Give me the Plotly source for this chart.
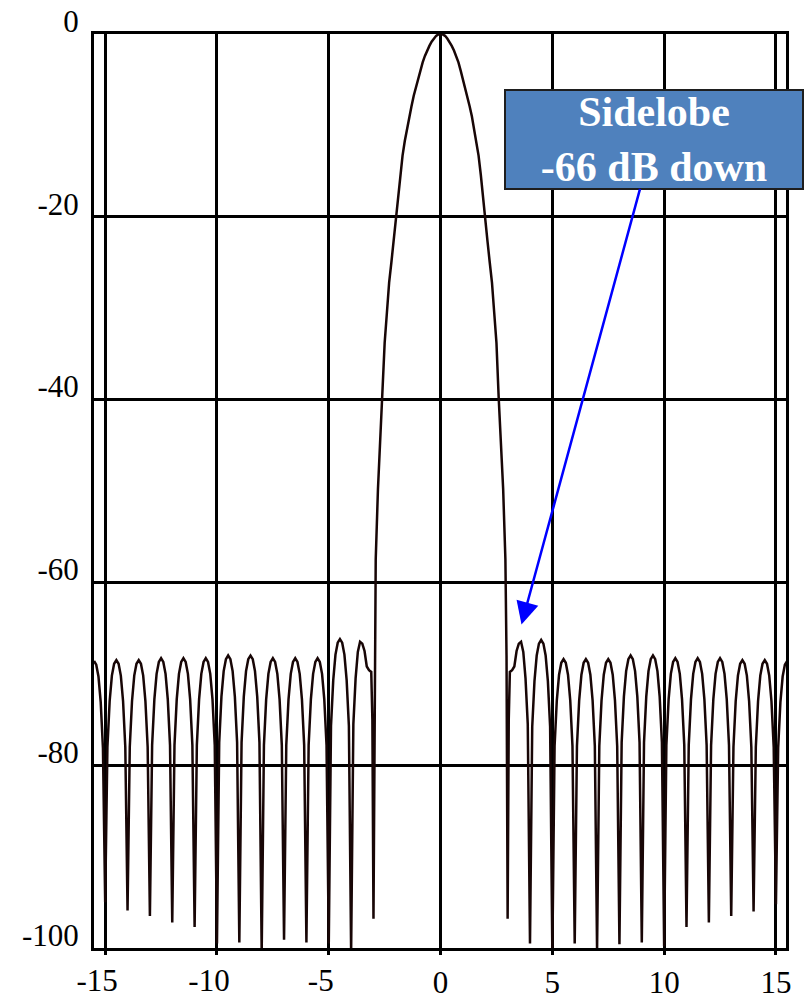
import plotly.graph_objects as go

# ---- data (angle vs. pattern level in dB) ----
x_left = [
    -15.5, -15.4, -15.3, -15.2, -15.1, -15.0,
    -14.9, -14.8, -14.7, -14.6, -14.5, -14.4, -14.3, -14.2, -14.1, -14.0,
    -13.9, -13.8, -13.7, -13.6, -13.5, -13.4, -13.3, -13.2, -13.1, -13.0,
    -12.9, -12.8, -12.7, -12.6, -12.5, -12.4, -12.3, -12.2, -12.1, -12.0,
    -11.9, -11.8, -11.7, -11.6, -11.5, -11.4, -11.3, -11.2, -11.1, -11.0,
    -10.9, -10.8, -10.7, -10.6, -10.5, -10.4, -10.3, -10.2, -10.1, -10.0,
    -9.9, -9.8, -9.7, -9.6, -9.5, -9.4, -9.3, -9.2, -9.1, -9.0,
    -8.9, -8.8, -8.7, -8.6, -8.5, -8.4, -8.3, -8.2, -8.1, -8.0,
    -7.9, -7.8, -7.7, -7.6, -7.5, -7.4, -7.3, -7.2, -7.1, -7.0,
    -6.9, -6.8, -6.7, -6.6, -6.5, -6.4, -6.3, -6.2, -6.1, -6.0,
    -5.9, -5.8, -5.7, -5.6, -5.5, -5.4, -5.3, -5.2, -5.1, -5.0,
    -4.9, -4.8, -4.7, -4.6, -4.5, -4.4, -4.3, -4.2, -4.1, -4.0,
    -3.9, -3.8, -3.7, -3.6, -3.5, -3.4, -3.3, -3.2, -3.1, -3.05, -3.0,
]
db_left = [
    -68.6, -69.0, -70.3, -73.1, -78.1, -95.0,
    -78.0, -73.0, -70.2, -68.9, -68.5, -68.9, -70.2, -73.0, -78.0, -95.9,
    -78.0, -73.0, -70.2, -68.9, -68.5, -68.9, -70.2, -73.0, -78.0, -96.5,
    -77.8, -72.8, -70.0, -68.7, -68.3, -68.7, -70.0, -72.8, -77.8, -97.2,
    -77.8, -72.8, -70.0, -68.7, -68.3, -68.7, -70.0, -72.8, -77.8, -97.7,
    -77.8, -72.8, -70.0, -68.7, -68.3, -68.7, -70.0, -72.8, -77.8, -99.5,
    -77.5, -72.5, -69.7, -68.4, -68.0, -68.4, -69.7, -72.5, -77.5, -99.4,
    -77.5, -72.5, -69.7, -68.4, -68.0, -68.4, -69.7, -72.5, -77.5, -100.5,
    -77.8, -72.8, -70.0, -68.7, -68.3, -68.7, -70.0, -72.8, -77.8, -99.1,
    -77.8, -72.8, -70.0, -68.7, -68.3, -68.7, -70.0, -72.8, -77.8, -99.4,
    -77.8, -72.8, -70.0, -68.7, -68.3, -68.7, -70.0, -72.8, -77.8, -99.5,
    -75.7, -70.7, -67.9, -66.6, -66.2, -66.6, -67.9, -70.7, -75.7, -100.5,
    -75.5, -70.5, -67.6, -66.5, -66.7, -67.5, -69.2, -69.6, -69.8, -75.0, -96.8,
]

x_main = [
    -2.95, -2.9, -2.8, -2.7, -2.6, -2.5, -2.4, -2.3, -2.2, -2.1, -2.0,
    -1.9, -1.8, -1.7, -1.6, -1.5, -1.4, -1.3, -1.2, -1.1, -1.0,
    -0.9, -0.8, -0.7, -0.6, -0.5, -0.4, -0.3, -0.2, -0.1, 0.0,
    0.1, 0.2, 0.3, 0.4, 0.5, 0.6, 0.7, 0.8, 0.9, 1.0,
    1.1, 1.2, 1.3, 1.4, 1.5, 1.6, 1.7, 1.8, 1.9, 2.0,
    2.1, 2.2, 2.3, 2.4, 2.5, 2.6, 2.7, 2.8, 2.9, 2.95,
]
db_main = [
    -68.0, -57.5, -49.8, -44.3, -39.8, -33.8, -30.5, -27.2, -25.0, -22.7, -20.3,
    -17.6, -15.4, -13.3, -11.7, -10.3, -9.0, -7.9, -6.75, -5.8, -4.9,
    -4.0, -3.1, -2.4, -1.8, -1.3, -0.85, -0.5, -0.2, -0.05, 0.0,
    -0.05, -0.2, -0.5, -0.85, -1.3, -1.8, -2.4, -3.1, -4.0, -4.9,
    -5.8, -6.75, -7.9, -9.0, -10.3, -11.7, -13.3, -15.4, -17.6, -20.3,
    -22.7, -25.0, -27.2, -30.5, -33.8, -39.8, -44.3, -49.8, -57.5, -68.0,
]

x_right = [
    3.0, 3.05, 3.1, 3.2, 3.3, 3.4, 3.5, 3.6, 3.7, 3.8, 3.9, 4.0,
    4.1, 4.2, 4.3, 4.4, 4.5, 4.6, 4.7, 4.8, 4.9, 5.0,
    5.1, 5.2, 5.3, 5.4, 5.5, 5.6, 5.7, 5.8, 5.9, 6.0,
    6.1, 6.2, 6.3, 6.4, 6.5, 6.6, 6.7, 6.8, 6.9, 7.0,
    7.1, 7.2, 7.3, 7.4, 7.5, 7.6, 7.7, 7.8, 7.9, 8.0,
    8.1, 8.2, 8.3, 8.4, 8.5, 8.6, 8.7, 8.8, 8.9, 9.0,
    9.1, 9.2, 9.3, 9.4, 9.5, 9.6, 9.7, 9.8, 9.9, 10.0,
    10.1, 10.2, 10.3, 10.4, 10.5, 10.6, 10.7, 10.8, 10.9, 11.0,
    11.1, 11.2, 11.3, 11.4, 11.5, 11.6, 11.7, 11.8, 11.9, 12.0,
    12.1, 12.2, 12.3, 12.4, 12.5, 12.6, 12.7, 12.8, 12.9, 13.0,
    13.1, 13.2, 13.3, 13.4, 13.5, 13.6, 13.7, 13.8, 13.9, 14.0,
    14.1, 14.2, 14.3, 14.4, 14.5, 14.6, 14.7, 14.8, 14.9, 15.0,
    15.1, 15.2, 15.3, 15.4, 15.5,
]
db_right = [
    -96.8, -75.0, -69.8, -69.6, -69.2, -67.5, -66.7, -66.5, -67.6, -70.5, -75.5, -99.5,
    -75.8, -70.8, -68.0, -66.7, -66.3, -66.7, -68.0, -70.8, -75.8, -100.5,
    -77.9, -72.9, -70.1, -68.8, -68.4, -68.8, -70.1, -72.9, -77.9, -99.5,
    -77.9, -72.9, -70.1, -68.8, -68.4, -68.8, -70.1, -72.9, -77.9, -100.2,
    -77.9, -72.9, -70.1, -68.8, -68.4, -68.8, -70.1, -72.9, -77.9, -99.6,
    -77.5, -72.5, -69.7, -68.4, -68.0, -68.4, -69.7, -72.5, -77.5, -99.4,
    -77.5, -72.5, -69.7, -68.4, -68.0, -68.4, -69.7, -72.5, -77.5, -99.8,
    -77.8, -72.8, -70.0, -68.7, -68.3, -68.7, -70.0, -72.8, -77.8, -97.7,
    -77.8, -72.8, -70.0, -68.7, -68.3, -68.7, -70.0, -72.8, -77.8, -97.2,
    -77.8, -72.8, -70.0, -68.7, -68.3, -68.7, -70.0, -72.8, -77.8, -96.5,
    -78.0, -73.0, -70.2, -68.9, -68.5, -68.9, -70.2, -73.0, -78.0, -96.0,
    -78.0, -73.0, -70.2, -68.9, -68.5, -68.9, -70.2, -73.0, -78.0, -95.2,
    -78.1, -73.1, -70.3, -69.0, -68.6,
]

x_ticks_neg = [-15, -10, -5]
x_ticks_pos = [0, 5, 10, 15]
y_ticks = [0, -20, -40, -60, -80, -100]
y_tick_text = ["0", "-20", "-40", "-60", "-80", "-100"]
callout_text = "Sidelobe<br>-66 dB down"

FONT = "Liberation Serif"

x_all = x_left + x_main + x_right
db_all = db_left + db_main + db_right

fig = go.Figure()
fig.add_trace(go.Scatter(
    x=x_all, y=db_all, mode="lines",
    line=dict(color="#180606", width=2.5),
    hoverinfo="skip", showlegend=False,
))
# helper (empty) trace so the second x axis (negative tick labels) is drawn
fig.add_trace(go.Scatter(x=[], y=[], xaxis="x2", yaxis="y", showlegend=False))

fig.update_layout(
    width=809, height=1000,
    margin=dict(l=94, r=23, t=34, b=52, autoexpand=False),
    paper_bgcolor="white", plot_bgcolor="white",
    font=dict(family=FONT, size=30, color="black"),
    showlegend=False,
    xaxis=dict(
        range=[-15.5, 15.45], automargin=False,
        tickvals=x_ticks_neg + x_ticks_pos,
        ticktext=["" for _ in x_ticks_neg] + [str(v) for v in x_ticks_pos],
        showgrid=True, gridcolor="black", gridwidth=2.8,
        zeroline=False,
        showline=True, mirror=True, linecolor="black", linewidth=3,
        ticks="outside", ticklen=4, tickwidth=2.5, tickcolor="black",
        ticklabelstandoff=1,
        tickfont=dict(family=FONT, size=31, color="black"),
    ),
    xaxis2=dict(
        overlaying="x", matches="x", anchor="y", side="bottom",
        range=[-15.5, 15.45], automargin=False,
        tickvals=x_ticks_neg,
        ticktext=[str(v) for v in x_ticks_neg],
        showgrid=False, zeroline=False, showline=False,
        ticks="outside", ticklen=4, tickwidth=2.5, tickcolor="black",
        ticklabelstandoff=1, ticklabelshift=-8,
        tickfont=dict(family=FONT, size=31, color="black"),
    ),
    yaxis=dict(
        range=[-100, 0], automargin=False,
        tickvals=y_ticks, ticktext=y_tick_text,
        showgrid=True, gridcolor="black", gridwidth=2.8,
        zeroline=False,
        showline=True, mirror=True, linecolor="black", linewidth=3,
        ticks="", ticklabelstandoff=6, ticklabelshift=-13,
        tickfont=dict(family=FONT, size=31, color="black"),
    ),
    annotations=[dict(
        x=3.62, y=-64.6, xref="x", yref="y",
        ax=132, ay=-485, axref="pixel", ayref="pixel",
        text="<b>" + callout_text + "</b>",
        font=dict(family=FONT, size=42, color="white"),
        bgcolor="#4F81BD", bordercolor="#1e1e1e", borderwidth=2, borderpad=0,
        width=296, height=97, align="center", valign="middle",
        showarrow=True, arrowhead=2, arrowsize=1.8, arrowwidth=2.5,
        arrowcolor="#0000FF", standoff=0,
    )],
)

fig.write_html("out.html")
